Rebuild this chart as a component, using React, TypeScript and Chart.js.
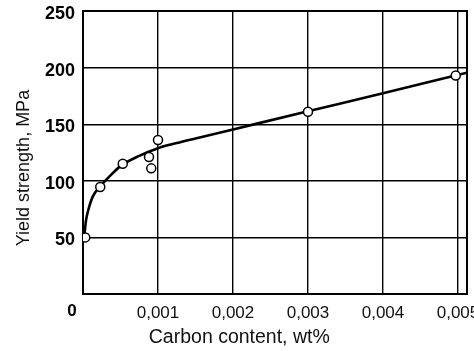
import React, { useEffect, useRef } from "react";
import { Chart, registerables } from "chart.js";

Chart.register(...registerables);

// Axis ticks
const xTicks = [0, 0.001, 0.002, 0.003, 0.004, 0.005];
const yTicks = [0, 50, 100, 150, 200, 250];
const xMax = 0.00512;
const yMax = 250;

// Fitted curve
const curveX = [0.00002, 0.00004, 0.00007, 0.00013, 0.00023, 0.00037, 0.0005, 0.00075, 0.001, 0.00125, 0.0015, 0.002, 0.003, 0.004, 0.00512];
const curveY = [53, 65, 74, 86, 95, 105, 113, 122, 128.8, 133.3, 137.4, 145.4, 161.4, 177.3, 195.5];

// Measured points
const pointX = [0.00003, 0.00023, 0.00053, 0.00088, 0.00091, 0.001, 0.003, 0.00497];
const pointY = [50, 94.5, 115, 121, 111, 136, 161, 193];

const xTitle = "Carbon content, wt%";
const yTitle = "Yield strength, MPa";
const FONT = '"Liberation Sans", Arial, sans-serif';

const fmtX = (v: number) => (v === 0 ? "" : String(v).replace(".", ","));

const framePlugin = {
  id: "frame",
  beforeDatasetsDraw(chart: any) {
    const { ctx, chartArea: a } = chart;
    ctx.save();
    ctx.strokeStyle = "#000";
    ctx.lineWidth = 2;
    ctx.strokeRect(a.left, a.top, a.right - a.left, a.bottom - a.top);
    ctx.restore();
  },
  afterDraw(chart: any) {
    const { ctx, chartArea: a, scales } = chart;
    ctx.save();
    ctx.fillStyle = "#000";
    ctx.font = `bold 17px ${FONT}`;
    ctx.textAlign = "center";
    ctx.textBaseline = "top";
    ctx.fillText("0", scales.x.getPixelForValue(0) - 11, a.bottom + 9);
    ctx.fillStyle = "#111";
    ctx.font = `19.5px ${FONT}`;
    ctx.textBaseline = "middle";
    ctx.fillText(xTitle, a.left + (a.right - a.left) * 0.407, a.bottom + 44);
    ctx.font = `18px ${FONT}`;
    ctx.translate(24, a.top + (a.bottom - a.top) * 0.555);
    ctx.rotate(-Math.PI / 2);
    ctx.fillText(yTitle, 0, 0);
    ctx.restore();
  },
};

export default function App() {
  const ref = useRef<HTMLCanvasElement>(null);

  useEffect(() => {
    document.body.style.margin = "0";
    document.body.style.overflow = "hidden";
    const canvas = ref.current;
    if (!canvas) return;
    const chart = new Chart(canvas, {
      type: "line",
      data: {
        datasets: [
          {
            label: "points",
            data: pointX.map((x, i) => ({ x, y: pointY[i] })),
            showLine: false,
            pointStyle: "circle",
            pointRadius: 4.5,
            pointBackgroundColor: "#fff",
            pointBorderColor: "#000",
            pointBorderWidth: 1.5,
            order: 0,
          },
          {
            label: "curve",
            data: curveX.map((x, i) => ({ x, y: curveY[i] })),
            borderColor: "#000",
            borderWidth: 2.6,
            pointRadius: 0,
            cubicInterpolationMode: "monotone",
            fill: false,
            order: 1,
          },
        ],
      },
      options: {
        responsive: false,
        animation: false,
        layout: { padding: { top: 11, right: 12, left: 0, bottom: 0 } },
        plugins: { legend: { display: false }, tooltip: { enabled: false } },
        scales: {
          x: {
            type: "linear",
            min: 0,
            max: xMax,
            afterBuildTicks: (s: any) => {
              s.ticks = xTicks.map((v) => ({ value: v }));
            },
            afterFit: (s: any) => {
              s.height = 57;
              s.paddingLeft = 0;
              s.paddingRight = 0;
            },
            ticks: {
              autoSkip: false,
              maxRotation: 0,
              padding: 9,
              color: "#111",
              font: { family: FONT, size: 17 },
              callback: (v: any) => fmtX(Number(v)),
            },
            grid: { color: "#000", lineWidth: 1.4, drawTicks: false },
            border: { display: false },
          },
          y: {
            type: "linear",
            min: 0,
            max: yMax,
            afterBuildTicks: (s: any) => {
              s.ticks = yTicks.map((v) => ({ value: v }));
            },
            afterFit: (s: any) => {
              s.width = 83;
              s.paddingTop = 0;
              s.paddingBottom = 0;
            },
            ticks: {
              padding: 8,
              labelOffset: 3,
              color: "#000",
              font: { family: FONT, size: 18, weight: "bold" },
              callback: (v: any) => (Number(v) === 0 ? "" : String(v)),
            },
            grid: { color: "#000", lineWidth: 1.4, drawTicks: false },
            border: { display: false },
          },
        },
      },
      plugins: [framePlugin],
    });
    return () => chart.destroy();
  }, []);

  return (
    <div style={{ width: 479, height: 351, overflow: "hidden" }}>
      <canvas ref={ref} width={479} height={351} style={{ display: "block" }} />
    </div>
  );
}
